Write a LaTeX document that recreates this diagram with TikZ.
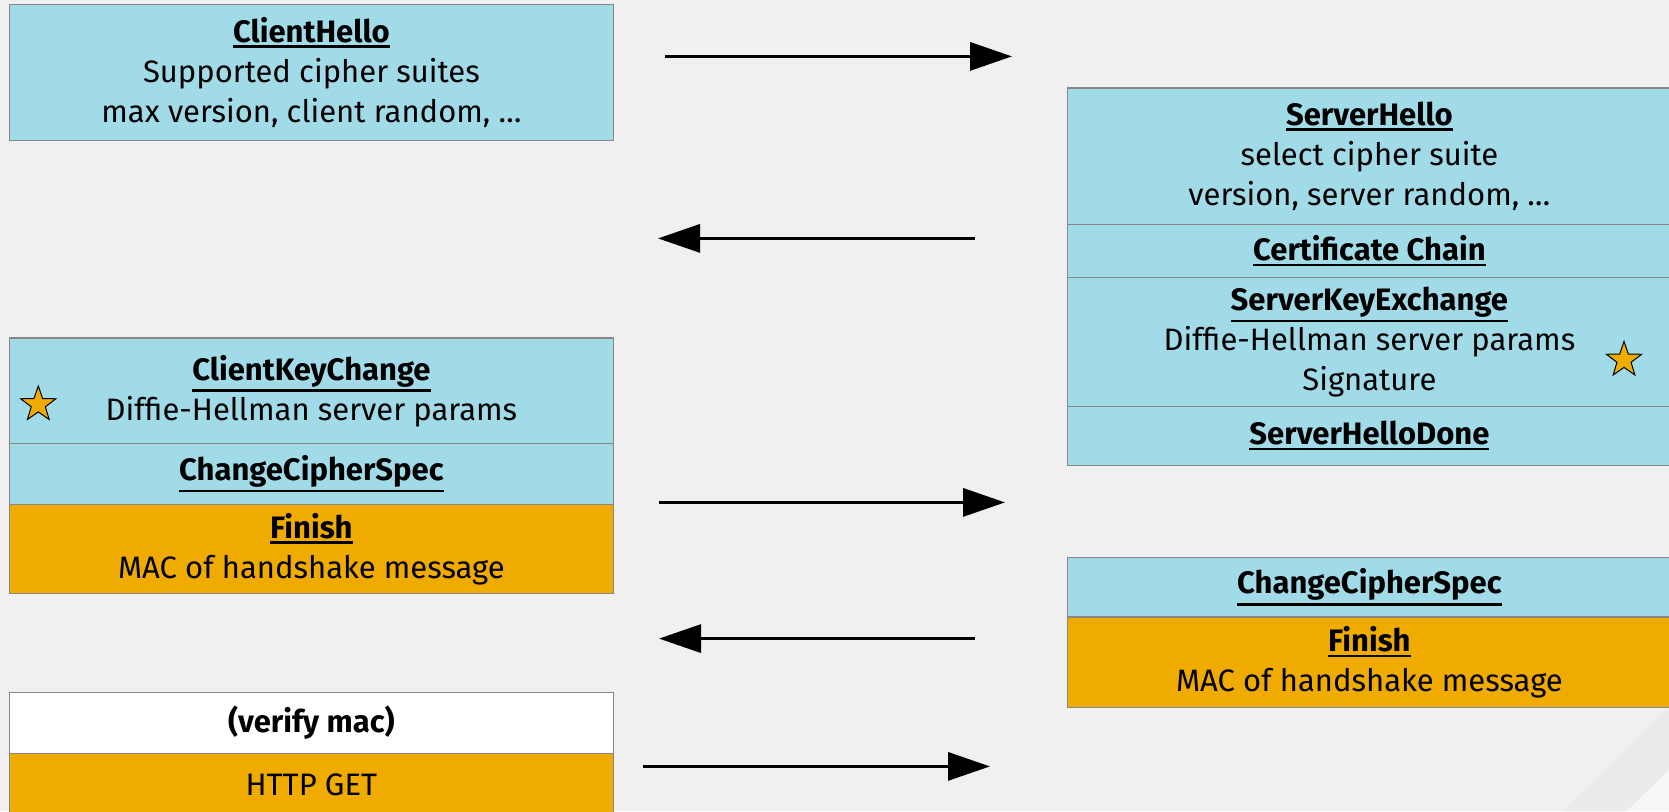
\documentclass[tikz,border=0pt]{standalone}
\usepackage{fontspec}
\setmainfont{Fira Sans}
\usetikzlibrary{shapes.geometric,arrows.meta}
\definecolor{bg}{RGB}{240,240,240}
\definecolor{bgband}{RGB}{235,235,235}
\definecolor{bgcorner}{RGB}{247,247,247}
\definecolor{cblue}{RGB}{162,219,232}
\definecolor{corange}{RGB}{240,171,0}
\definecolor{cborder}{RGB}{135,135,135}
\newcommand{\hd}[1]{\textbf{\setbox0=\hbox{#1}\leavevmode\rlap{\raisebox{\dimexpr-\dp0-5pt\relax}{\rule{\wd0}{2.5pt}}}\box0}}
\begin{document}
\begin{tikzpicture}[x=1pt,y=-1pt,
  sec/.style={draw=cborder, line width=1.3pt, anchor=north west, minimum width=604.5pt,
    inner sep=0pt, align=center, font=\fontsize{31}{40}\selectfont},
  blue/.style={sec, fill=cblue},
  orng/.style={sec, fill=corange},
  white/.style={sec, fill=white},
  arr/.style={line width=3.3pt, -{Triangle[length=42pt,width=28pt]}},
  starmark/.style={star, star points=5, star point ratio=2.5, minimum size=37pt, inner sep=0pt,
    fill=corange, draw=black, line width=1pt}
]
\path[use as bounding box, fill=bg] (0,0) rectangle (1669,811);
\fill[bgband] (1563,811) -- (1669,707) -- (1669,770) -- (1627,811) -- cycle;
\fill[bgcorner] (1627,811) -- (1669,770) -- (1669,811) -- cycle;

% left column
\node[blue, minimum height=135.5pt] (ch) at (8.5,4) {\hd{ClientHello}\\Supported cipher suites\\max version, client random, \ldots};
\node[blue, minimum height=105.4pt] (ckc) at (8.5,337.4) {\hd{ClientKeyChange}\\Diffie-Hellman server params};
\node[blue, minimum height=60.7pt] (ccs1) at (8.5,442.8) {\hd{ChangeCipherSpec}};
\node[orng, minimum height=89.5pt] (fin1) at (8.5,503.5) {\hd{Finish}\\MAC of handshake message};
\node[white, minimum height=60.7pt] (vm) at (8.5,691.9) {\textbf{(verify mac)}};
\node[orng, minimum height=63.4pt] (get) at (8.5,752.6) {HTTP GET};

% right column
\node[blue, minimum height=136.2pt] (sh) at (1066.5,87.3) {\hd{ServerHello}\\select cipher suite\\version, server random, \ldots};
\node[blue, minimum height=53.2pt] (cc) at (1066.5,223.5) {\hd{Certificate Chain}};
\node[blue, minimum height=128.8pt] (ske) at (1066.5,276.7) {\hd{ServerKeyExchange}\\Diffie-Hellman server params\\Signature};
\node[blue, minimum height=59.5pt] (shd) at (1066.5,405.5) {\hd{ServerHelloDone}};
\node[blue, minimum height=59.6pt] (ccs2) at (1066.5,556.7) {\hd{ChangeCipherSpec}};
\node[orng, minimum height=90.5pt] (fin2) at (1066.5,616.3) {\hd{Finish}\\MAC of handshake message};

% stars
\node[starmark] (s1) at (38.3,404.5) {};
\node[starmark] (s2) at (1624,360) {};

% arrows
\coordinate (a1s) at (665,56.4);   \coordinate (a1e) at (1012,56.4);
\coordinate (a2s) at (975,238.4);  \coordinate (a2e) at (658,238.4);
\coordinate (a3s) at (659,502.4);  \coordinate (a3e) at (1005,502.4);
\coordinate (a4s) at (975,638.6);  \coordinate (a4e) at (659,638.6);
\coordinate (a5s) at (643,766.4);  \coordinate (a5e) at (990,766.4);
\draw[arr] (a1s) -- (a1e);
\draw[arr] (a2s) -- (a2e);
\draw[arr] (a3s) -- (a3e);
\draw[arr] (a4s) -- (a4e);
\draw[arr] (a5s) -- (a5e);
\end{tikzpicture}
\end{document}
